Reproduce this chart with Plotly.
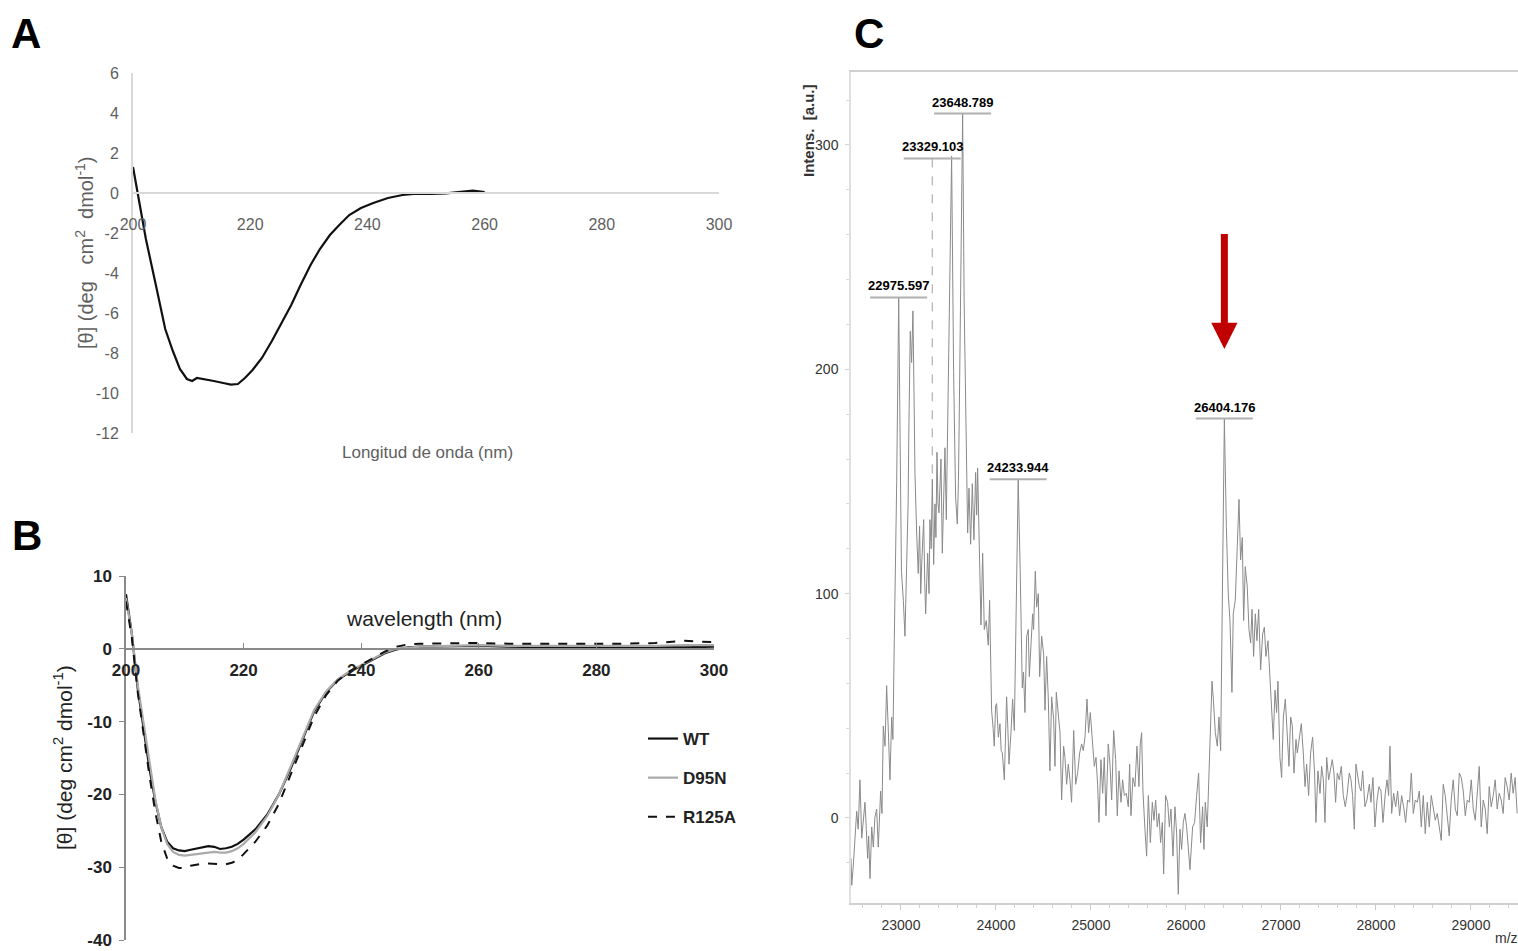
import plotly.graph_objects as go

# ---------------- data ----------------
# Panel A: CD spectrum (Longitud de onda vs [theta])
wl_a = [200, 201, 202.2, 203.9, 205.5, 206.8, 208, 209.2, 210.1, 210.9, 212.1, 213.8, 215.4,
        216.7, 217.9, 219.1, 220.4, 222, 223.7, 225.3, 227, 228.6, 230.3, 231.9, 233.6, 235.2,
        236.9, 238.9, 241, 243.5, 246, 248.4, 250.9, 253.4, 255.9, 258, 260]
cd_a = [1.3, -0.3, -2.3, -4.6, -6.8, -7.9, -8.8, -9.3, -9.4, -9.25, -9.3, -9.4, -9.5,
        -9.58, -9.55, -9.25, -8.85, -8.25, -7.4, -6.5, -5.6, -4.6, -3.6, -2.8, -2.1, -1.6,
        -1.1, -0.75, -0.5, -0.25, -0.1, -0.03, -0.05, -0.02, 0.05, 0.12, 0.05]
ticks_ax = [200, 220, 240, 260, 280, 300]
ticks_ay = [-12, -10, -8, -6, -4, -2, 0, 2, 4, 6]

# Panel B: CD spectra of three variants
wl_b = [200, 201, 202, 203, 204, 205, 206, 207, 208, 209, 210, 211, 212, 213, 214, 215, 216, 217,
        218, 219, 220, 222, 224, 226, 228, 230, 232, 234, 236, 238, 240, 242, 244, 246, 248, 250,
        255, 260, 265, 270, 275, 280, 285, 290, 295, 300]
wt = [7.5, 2.0, -5.5, -11.0, -16.5, -21.0, -24.5, -26.5, -27.4, -27.7, -27.8, -27.6, -27.4, -27.2,
      -27.1, -27.2, -27.5, -27.4, -27.2, -26.8, -26.2, -24.8, -22.8, -20.0, -16.5, -12.5, -8.6, -6.0,
      -4.3, -3.2, -2.3, -1.4, -0.6, -0.1, 0.2, 0.3, 0.4, 0.4, 0.3, 0.2, 0.2, 0.1, 0.2, 0.3, 0.2, 0.3]
d95n = [7.0, 2.0, -5.0, -10.5, -16.0, -20.8, -24.5, -26.8, -27.9, -28.3, -28.4, -28.3, -28.1, -28.0,
        -27.9, -27.9, -28.0, -28.0, -27.8, -27.4, -26.8, -25.2, -23.0, -20.0, -16.2, -12.2, -8.4, -5.9,
        -4.2, -3.1, -2.2, -1.3, -0.5, 0.0, 0.2, 0.3, 0.4, 0.5, 0.4, 0.4, 0.3, 0.3, 0.3, 0.4, 0.5, 0.5]
r125a = [6.5, 1.5, -6.0, -12.0, -17.5, -22.5, -26.5, -28.8, -29.8, -30.1, -30.1, -29.8, -29.6, -29.5,
         -29.5, -29.5, -29.6, -29.6, -29.4, -29.0, -28.2, -26.5, -24.3, -21.3, -17.3, -13.3, -9.3, -6.4,
         -4.4, -3.1, -2.2, -1.3, -0.4, 0.3, 0.6, 0.7, 0.8, 0.8, 0.7, 0.7, 0.6, 0.6, 0.7, 0.8, 1.1, 0.9]
series_b = ["WT", "D95N", "R125A"]
ticks_bx = [200, 220, 240, 260, 280, 300]
ticks_by = [-40, -30, -20, -10, 0, 10]

# Panel C: MALDI mass spectrum (m/z vs intensity)
spec_mz = [22474, 22482, 22500, 22516, 22534, 22550, 22568, 22587, 22605, 22621, 22635, 22649, 22660,
           22674, 22692, 22709, 22725, 22744, 22761, 22775, 22786, 22800, 22814, 22832, 22849, 22867,
           22884, 22902, 22915, 22930, 22955, 22976, 22990, 23005, 23025, 23042, 23060, 23075, 23084,
           23098, 23112, 23126, 23137, 23147, 23165, 23182, 23196, 23208, 23218, 23239, 23250, 23260,
           23281, 23295, 23305, 23318, 23330, 23344, 23358, 23368, 23379, 23390, 23400, 23412, 23421,
           23435, 23449, 23463, 23477, 23490, 23505, 23533, 23554, 23575, 23593, 23605, 23614, 23630,
           23649, 23665, 23681, 23702, 23716, 23733, 23751, 23768, 23786, 23797, 23807, 23825, 23842,
           23860, 23877, 23898, 23919, 23933, 23954, 23970, 23982,
           23996, 24007, 24025, 24042, 24055, 24067, 24088, 24100, 24112, 24125, 24137, 24158, 24175,
           24193, 24210, 24234, 24255, 24277, 24290, 24305, 24323, 24340, 24351, 24368, 24386, 24396,
           24414, 24428, 24446, 24460, 24481, 24502, 24516, 24533, 24551, 24568, 24586, 24607, 24621,
           24635, 24656, 24674, 24691, 24712, 24726, 24744, 24761, 24779, 24796, 24818, 24839, 24860,
           24881, 24902, 24919, 24937, 24958, 24975, 24993, 25014, 25035, 25053, 25070, 25084, 25105,
           25123, 25140, 25158, 25182, 25200, 25218, 25239, 25260, 25277, 25295, 25316, 25333, 25351,
           25372, 25393, 25407, 25421, 25442, 25463, 25484, 25505, 25519, 25533, 25547, 25568, 25586,
           25604, 25625, 25646, 25663, 25681, 25698, 25716, 25733, 25751, 25765, 25786, 25807, 25825,
           25842, 25863, 25884, 25902, 25919, 25937, 25954, 25972, 25989, 26007, 26025, 26042,
           26070, 26091, 26112, 26133, 26154, 26175, 26189, 26203, 26224, 26245, 26260, 26274, 26288,
           26309, 26330, 26347, 26365, 26385, 26404, 26425, 26446, 26463, 26484, 26498, 26519, 26540,
           26558, 26575, 26593, 26607, 26624, 26645, 26663, 26681, 26695, 26712, 26730, 26747, 26765,
           26786, 26807, 26825, 26842, 26863, 26884, 26902, 26919, 26937, 26954, 26968, 26989, 27007,
           27025, 27046, 27067, 27084, 27102, 27119, 27137, 27158, 27172, 27193, 27214, 27235, 27253,
           27270, 27291, 27312, 27333, 27354, 27368, 27389, 27411, 27428, 27446, 27463, 27481, 27502,
           27523, 27540, 27558, 27575, 27593, 27614, 27635, 27656, 27677, 27698, 27719,
           27737, 27754, 27772, 27789, 27807, 27825, 27842, 27860, 27884, 27905, 27930, 27947, 27968,
           27989, 28011, 28032, 28053, 28074, 28098, 28116, 28133, 28147, 28165, 28186, 28207, 28228,
           28249, 28270, 28291, 28312, 28333, 28354, 28372, 28393, 28414, 28435, 28456, 28477, 28498,
           28519, 28540, 28561, 28582, 28603, 28624, 28645, 28666, 28687, 28708, 28729, 28750, 28771,
           28792, 28813, 28835, 28856, 28877, 28898, 28919, 28940, 28961, 28982, 29003, 29024, 29045,
           29066, 29087, 29108, 29129, 29150, 29171, 29192, 29213, 29234, 29255, 29276, 29297, 29318,
           29339, 29360, 29381, 29402, 29423, 29444, 29465, 29486]
spec_int = [-18, -30, -20, -11, 3, -5, 17, -9, 2, 7, -5, -18, -8,
            -27, -4, -13, 0, 4, -13, 5, 12, 2, 41, 32, 59, 39,
            17, 45, 35, 80, 150, 232, 160, 110, 97, 81, 113, 140, 176,
            217, 203, 226, 190, 154, 127, 109, 130, 100, 113, 133, 105, 91,
            118, 100, 133, 120, 151, 113, 140, 125, 163, 140, 136, 150, 160,
            118, 149, 165, 133, 170, 221, 295, 199, 143, 131, 150, 181, 250,
            314, 230, 176, 127, 147, 122, 149, 124, 154, 135, 156, 120, 86,
            118, 84, 88, 77, 97, 48, 40, 32,
            50, 51, 36, 42, 30, 29, 17, 35, 54, 40, 24, 38, 53,
            39, 90, 151, 110, 58, 65, 47, 81, 84, 63, 79, 91, 84,
            110, 94, 100, 63, 81, 73, 48, 72, 53, 21, 54, 44, 23,
            56, 44, 38, 8, 32, 27, 15, 24, 17, 7, 39, 15, 20,
            29, 33, 30, 36, 53, 38, 47, 36, 23, 27, 15, -2, 26,
            11, 27, 1, 33, 24, 8, 39, 26, 1, 21, 7, 17, 10,
            11, 5, 24, 1, 18, 14, 32, 14, 33, 38, 12, -5, -17,
            10, -11, 7, -1, 8, -4, 2, -11, -2, -25, 10, 7, -4,
            4, -17, 5, -7, -34, -5, -14, -2, 2, -4, -13, -23,
            -4, -2, 10, 20, -11, 5, -14, 7, -4, 23, 38, 61, 53,
            38, 32, 45, 30, 100, 178, 130, 99, 88, 56, 91, 97, 121,
            142, 115, 125, 88, 112, 103, 84, 78, 93, 72, 91, 79, 93,
            66, 82, 85, 72, 79, 61, 47, 35, 57, 47, 61, 27, 18,
            45, 53, 39, 23, 45, 41, 20, 35, 29, 36, 42, 29, 14,
            24, 10, 29, 36, 20, -2, 21, 11, 23, 17, -2, 27, 17,
            23, 26, 20, 7, 20, 17, 23, 10, 5, 11, 20,
            17, 10, -5, 24, 18, 14, 12, 21, 5, 8, 15, 7, 18,
            -4, 8, 14, 12, -2, 11, 17, 10, 32, 2, 11, 5, 12,
            1, 10, 5, -2, 8, 7, 20, 2, 8, 7, 12, -4, 10,
            -7, 7, -4, 10, 4, -1, 2, -5, -10, 15, 10, 1, -8,
            8, 17, 4, 1, 20, 18, 12, 1, 8, 7, 17, 4, -1,
            10, 23, -4, 8, 4, -7, 14, 5, 10, 17, 4, 11, 8,
            2, 18, 14, 8, 20, 11, 18, 2]
ticks_cx = [23000, 24000, 25000, 26000, 27000, 28000, 29000]
ticks_cy = [0, 100, 200, 300]

# labelled peaks
peak_labels = ["22975.597", "23329.103", "23648.789", "24233.944", "26404.176"]
peak_mz = [22975.597, 23329.103, 23648.789, 24233.944, 26404.176]
peak_int = [232, 151, 314, 151, 178]
label_int = [232, 294, 314, 151, 178]
arrow_mz = 26404.176
arrow_from, arrow_to = 261, 209

# ---------------- figure ----------------
W, H = 1518, 951
def px(x):
    return x / W
def py(y):
    return 1 - y / H

SANS = "Liberation Sans, Arial, Helvetica, sans-serif"
GREYTXT = "#5f5f5f"
NB = "\u00a0"

fig = go.Figure()

# Panel A
fig.add_trace(go.Scatter(x=wl_a, y=cd_a, mode="lines", xaxis="x", yaxis="y",
                         line=dict(color="#111111", width=2.2), showlegend=False, hoverinfo="skip"))

# Panel B
styles_b = [dict(color="#111111", width=2.2),
            dict(color="#aaaaaa", width=2.2),
            dict(color="#111111", width=2.0, dash="dash")]
for name, vals, st in zip(series_b, [wt, d95n, r125a], styles_b):
    fig.add_trace(go.Scatter(x=wl_b, y=vals, mode="lines", name=name, legendgroup=name,
                             xaxis="x2", yaxis="y2", line=st))

# Panel C
fig.add_trace(go.Scatter(x=spec_mz, y=spec_int, mode="lines", xaxis="x3", yaxis="y3",
                         line=dict(color="#8a8a8a", width=1), showlegend=False, hoverinfo="skip"))

shapes = []
annotations = []

# peak labels, underline and stems
half_w = 300
for lab, mz, pint, lint in zip(peak_labels, peak_mz, peak_int, label_int):
    shapes.append(dict(type="line", xref="x3", yref="y3", x0=mz - half_w, x1=mz + half_w,
                       y0=lint, y1=lint, line=dict(color="#b0b0b0", width=2)))
    if lint > pint:
        shapes.append(dict(type="line", xref="x3", yref="y3", x0=mz, x1=mz, y0=lint, y1=pint,
                           line=dict(color="#a0a0a0", width=1, dash="dash")))
    annotations.append(dict(x=mz, y=lint, xref="x3", yref="y3", text=lab, showarrow=False,
                            xanchor="center", yanchor="bottom", yshift=2,
                            font=dict(family=SANS, size=13, color="#000000", weight="bold")))

# red arrow
annotations.append(dict(x=arrow_mz, y=arrow_to, ax=arrow_mz, ay=arrow_from, xref="x3", yref="y3",
                        axref="x3", ayref="y3", text="", showarrow=True, arrowhead=2,
                        arrowsize=0.75, arrowwidth=7, arrowcolor="#c00000"))

# panel letters
for letter, x, y in [("A", 26, 33), ("B", 27, 535), ("C", 869, 33)]:
    annotations.append(dict(x=px(x), y=py(y), xref="paper", yref="paper", text=letter,
                            showarrow=False, xanchor="center", yanchor="middle",
                            font=dict(family=SANS, size=42, color="#000000", weight="bold")))

# axis titles as text
def txt(x, y, text, size, color, angle=0, bold=False):
    return dict(x=px(x), y=py(y), xref="paper", yref="paper", text=text, textangle=angle,
                showarrow=False, xanchor="center", yanchor="middle",
                font=dict(family=SANS, size=size, color=color,
                          weight="bold" if bold else "normal"))

annotations += [
    txt(427, 453, "Longitud de onda (nm)", 17, GREYTXT),
    txt(84, 253, f"[θ]{NB}(deg{NB}{NB}{NB}cm<sup>2</sup>{NB}{NB}dmol<sup>-1</sup>)", 20, GREYTXT,
        angle=-90),
    txt(424, 618, "wavelength (nm)", 21, "#222222"),
    txt(63, 758, "[θ] (deg cm<sup>2</sup> dmol<sup>-1</sup>)", 21, "#222222", angle=-90),
    txt(808, 130, f"Intens.{NB}{NB}[a.u.]", 15, "#333333", angle=-90, bold=True),
    txt(1506, 938, "m/z", 14, "#333333"),
]

fig.update_layout(
    width=W, height=H, autosize=False,
    margin=dict(l=0, r=0, t=0, b=0),
    paper_bgcolor="white", plot_bgcolor="white",
    shapes=shapes, annotations=annotations,
    legend=dict(x=px(643), y=py(721), xanchor="left", yanchor="top",
                bgcolor="rgba(0,0,0,0)", tracegroupgap=14, itemwidth=30,
                font=dict(family=SANS, size=17, color="#222222", weight="bold")),
    # Panel A axes
    xaxis=dict(domain=[px(133), px(719)], range=[200, 300], anchor="free", position=py(193),
               automargin=False,
               showline=True, linecolor="#d9d9d9", linewidth=2, showgrid=False, zeroline=False,
               tickvals=ticks_ax, ticktext=[str(v) for v in ticks_ax], ticks="",
               ticklabelstandoff=17, ticklabeloverflow="allow",
               tickfont=dict(family=SANS, size=16, color=GREYTXT)),
    yaxis=dict(domain=[py(433), py(73)], range=[-12, 6], anchor="x", automargin=False,
               showline=True, linecolor="#d9d9d9", linewidth=2, showgrid=False, zeroline=False,
               tickvals=ticks_ay, ticktext=[str(v) for v in ticks_ay], ticks="",
               ticklabelstandoff=9, ticklabeloverflow="allow",
               tickfont=dict(family=SANS, size=16, color=GREYTXT)),
    # Panel B axes
    xaxis2=dict(domain=[px(126), px(714)], range=[200, 300], anchor="free", position=py(649),
                automargin=False,
                showline=True, linecolor="#8a8a8a", linewidth=1.5, showgrid=False, zeroline=False,
                tickvals=ticks_bx, ticktext=[str(v) for v in ticks_bx], ticks="inside", ticklen=5,
                tickcolor="#8a8a8a", ticklabelstandoff=6, ticklabeloverflow="allow",
                tickfont=dict(family=SANS, size=17, color="#222222", weight="bold")),
    yaxis2=dict(domain=[py(940), py(576)], range=[-40, 10], anchor="x2", automargin=False,
                showline=True, linecolor="#8a8a8a", linewidth=1.5, showgrid=False, zeroline=False,
                tickvals=ticks_by, ticktext=[str(v) for v in ticks_by], ticks="outside", ticklen=5,
                tickcolor="#8a8a8a", ticklabelstandoff=4, ticklabeloverflow="allow",
                tickfont=dict(family=SANS, size=17, color="#222222", weight="bold")),
    # Panel C axes
    xaxis3=dict(domain=[px(851), 1.0], range=[22474, 29495], anchor="y3", automargin=False,
                showline=True, linecolor="#d0d0d0", linewidth=1.5, mirror=True,
                showgrid=False, zeroline=False,
                tickvals=ticks_cx, ticktext=[str(v) for v in ticks_cx],
                ticks="outside", ticklen=5, tickcolor="#c8c8c8",
                minor=dict(dtick=200, ticks="outside", ticklen=3, tickcolor="#d0d0d0"),
                ticklabelstandoff=3, ticklabeloverflow="allow",
                tickfont=dict(family=SANS, size=14, color="#333333")),
    yaxis3=dict(domain=[py(903), py(72)], range=[-37.9, 332.5], anchor="x3", automargin=False,
                showline=True, linecolor="#e0e0e0", linewidth=1.5,
                showgrid=False, zeroline=False,
                tickvals=ticks_cy, ticktext=[str(v) for v in ticks_cy],
                ticks="outside", ticklen=4, tickcolor="#d0d0d0",
                minor=dict(dtick=20, ticks="outside", ticklen=3, tickcolor="#d8d8d8"),
                ticklabelstandoff=4, ticklabeloverflow="allow",
                tickfont=dict(family=SANS, size=14, color="#333333")),
)

fig.write_html("out.html")
